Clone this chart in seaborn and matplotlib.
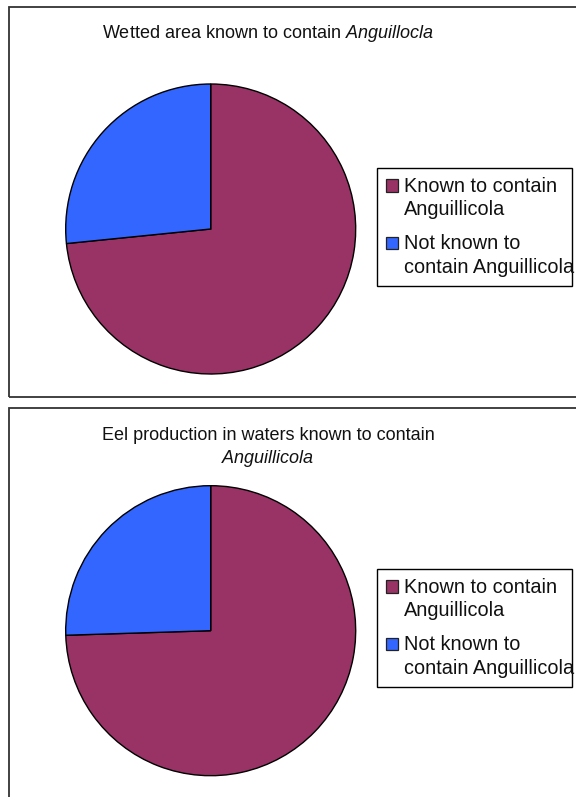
import matplotlib
matplotlib.use("Agg")
import matplotlib.pyplot as plt
import seaborn as sns
from matplotlib.patches import Rectangle, Patch

# ---- data ----
categories = ["Known to contain\nAnguillicola", "Not known to\ncontain Anguillicola"]
wetted_area = [73.4, 26.6]
eel_production = [74.5, 25.5]
titles = ["Wetted area known to contain $\\mathit{Anguillocla}$",
          "Eel production in waters known to contain\n$\\mathit{Anguillicola}$"]
colors = ["#993366", "#3366FF"]

sns.set_theme(style="white")
plt.rcParams['font.family'] = ['Liberation Sans', 'DejaVu Sans']
plt.rcParams['mathtext.fontset'] = 'custom'
plt.rcParams['mathtext.rm'] = 'Liberation Sans'
plt.rcParams['mathtext.it'] = 'Liberation Sans:italic'

W, H = 576, 797
fig = plt.figure(figsize=(W / 100, H / 100), dpi=100)
fig.patch.set_facecolor("white")

def fx(px):
    return px / W

def fy(py):
    return 1 - py / H

# panel borders
fig.patches.append(Rectangle((fx(9), fy(397)), fx(600), (397 - 7) / H, transform=fig.transFigure,
                             fill=False, edgecolor="#333333", linewidth=1.3))
fig.patches.append(Rectangle((fx(9), fy(840)), fx(600), (840 - 408) / H, transform=fig.transFigure,
                             fill=False, edgecolor="#333333", linewidth=1.3))

panels = [
    dict(values=wetted_area, title=titles[0], cx=210.7, cy=229, title_y=34, leg_top=168),
    dict(values=eel_production, title=titles[1], cx=210.7, cy=630.7, title_y=448, leg_top=569),
]
r = 145
LEG_FS = 14.3
LINESP = 1.3
LEG_W = 195  # legend frame width in pixels (text overflows slightly, as in the original)


def make_set_bounds(orig):
    def set_bounds(*args):
        x, y, w, h = args if len(args) == 4 else args[0]
        orig(x, y, min(w, LEG_W), h)
    return set_bounds


for p in panels:
    ax = fig.add_axes([fx(p["cx"] - r), fy(p["cy"] + r), 2 * r / W, 2 * r / H])
    ax.pie(p["values"], colors=colors, startangle=90, counterclock=False,
           wedgeprops=dict(edgecolor="black", linewidth=1.0))
    ax.set_xlim(-1, 1)
    ax.set_ylim(-1, 1)
    ax.set_aspect("auto")
    ax.axis("off")
    fig.text(fx(268), fy(p["title_y"]), p["title"], ha="center", va="center",
             fontsize=13, linespacing=1.3, color="#111111")
    handles = [Patch(facecolor=c, edgecolor="#222222", linewidth=0.9) for c in colors]
    leg = fig.legend(handles, categories, loc="upper left",
                     bbox_to_anchor=(fx(377), fy(p["leg_top"])),
                     borderaxespad=0, frameon=True, fancybox=False, fontsize=LEG_FS,
                     handlelength=0.6, handleheight=0.6, handletextpad=0.3,
                     labelspacing=0.75, borderpad=0.45)
    leg.get_frame().set_edgecolor("black")
    leg.get_frame().set_linewidth(1.0)
    leg.get_frame().set_alpha(1)
    leg.legendPatch.set_bounds = make_set_bounds(leg.legendPatch.set_bounds)
    for t in leg.get_texts():
        t.set_color("#111111")
        t.set_linespacing(LINESP)
    # align each square with the first line of its two-line label
    for h in leg.legend_handles:
        h.set_y(h.get_y() + 0.5 * LINESP * LEG_FS)

fig.savefig("out.png", dpi=100)
